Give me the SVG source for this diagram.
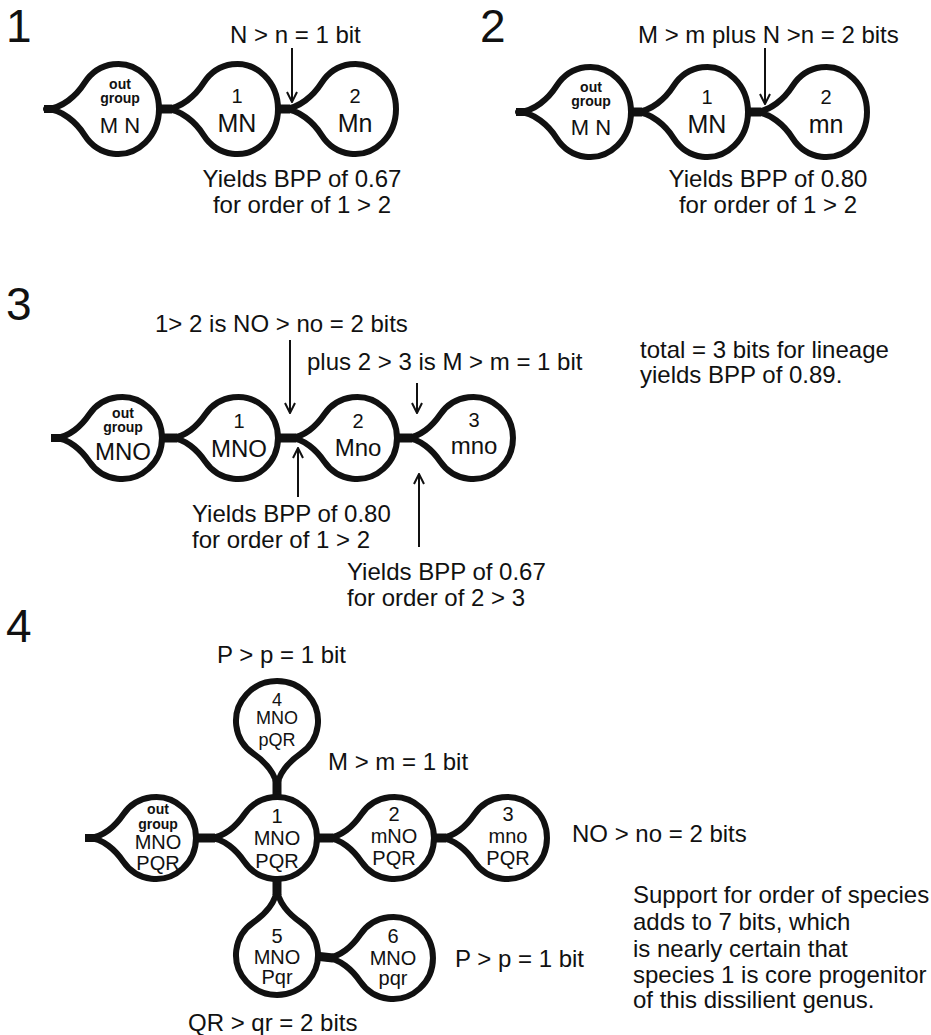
<svg xmlns="http://www.w3.org/2000/svg" width="931" height="1035" viewBox="0 0 931 1035">
  <style>
    text { font-family: "Liberation Sans", Arial, sans-serif; fill: #111; }
    .pn { font-size: 46px; }
    .lbl { font-size: 24px; }
    .c { text-anchor: middle; }
    .og { font-size: 14px; font-weight: bold; }
    .n18 { font-size: 18px; }
    .n20 { font-size: 20px; }
    .n22 { font-size: 22px; }
    .n24 { font-size: 24px; }
    .n25 { font-size: 25px; }
    .bar { stroke: #111; stroke-width: 9; fill: none; }
    .stub { stroke: #111; stroke-width: 8; fill: none; }
    .ptr { stroke: #111; stroke-width: 2; fill: none; marker-end: url(#head); }
  </style>
  <defs>
    <!-- bulb with a tapered stem pointing left; tip at (-72,0) -->
    <path id="bulbA" d="M-72,0 C-56,0 -41.1,-14 -33.6,-25.8 A41 45 0 1 1 -33.6,25.8 C-41.1,14 -56,0 -72,0Z" fill="#fff" stroke="#111" stroke-width="6" stroke-linejoin="round"/>
    <!-- slightly smaller bulb; tip at (-68,0) -->
    <path id="bulbB" d="M-68,0 C-53,0 -40.1,-12.8 -32.8,-23.5 A40 41 0 1 1 -32.8,23.5 C-40.1,12.8 -53,0 -68,0Z" fill="#fff" stroke="#111" stroke-width="6" stroke-linejoin="round"/>
    <marker id="head" viewBox="0 0 12 12" refX="11" refY="6" markerWidth="12" markerHeight="12" markerUnits="userSpaceOnUse" orient="auto">
      <path d="M1,1 L11,6 L1,11" fill="none" stroke="#111" stroke-width="2"/>
    </marker>
  </defs>
  <rect width="931" height="1035" fill="#fff"/>

  <!-- panel numbers -->
  <text class="pn" x="6" y="42">1</text>
  <text class="pn" x="480" y="42">2</text>
  <text class="pn" x="6" y="320">3</text>
  <text class="pn" x="6" y="642">4</text>

  <!-- connectors: stems joining the bulbs -->
  <g id="connectors">
    <path class="stub" d="M44,109 H58"/>
    <path class="bar" d="M156,109 H172"/>
    <path class="bar" d="M275,109 H290"/>
    <path class="stub" d="M516,112 H530"/>
    <path class="bar" d="M628,112 H642"/>
    <path class="bar" d="M745,112 H761"/>
    <path class="stub" d="M51,438 H65"/>
    <path class="bar" d="M159,438 H177"/>
    <path class="bar" d="M275,438 H296"/>
    <path class="bar" d="M394,438 H412"/>
    <path class="stub" d="M85,838 H99"/>
    <path class="bar" d="M193,838 H215"/>
    <path class="bar" d="M313,838 H333"/>
    <path class="bar" d="M431,838 H446"/>
    <path class="bar" d="M277,780 V800"/>
    <path class="bar" d="M277,876 V895"/>
    <path class="bar" d="M315,956 L333,958"/>
  </g>

  <!-- pointer arrows -->
  <g id="pointers">
    <path class="ptr" d="M292,48 V102"/>
    <path class="ptr" d="M765,48 V104"/>
    <path class="ptr" d="M290,340 V413"/>
    <path class="ptr" d="M417,383 V413"/>
    <path class="ptr" d="M298,497 V448"/>
    <path class="ptr" d="M419,547 V474"/>
  </g>

  <!-- panel 1 -->
  <g id="p1-out">
    <use href="#bulbA" transform="translate(118,109)"/>
    <text class="og c" x="120" y="89">out</text>
    <text class="og c" x="120" y="103">group</text>
    <text class="n22 c" x="120" y="133">M N</text>
  </g>
  <g id="p1-n1">
    <use href="#bulbA" transform="translate(237,109)"/>
    <text class="n20 c" x="237" y="103">1</text>
    <text class="n25 c" x="237" y="132">MN</text>
  </g>
  <g id="p1-n2">
    <use href="#bulbA" transform="translate(355,109)"/>
    <text class="n20 c" x="355" y="103">2</text>
    <text class="n25 c" x="355" y="132">Mn</text>
  </g>
  <text class="lbl" x="230" y="43">N &gt; n = 1 bit</text>
  <text class="lbl c" x="302" y="187">Yields BPP of 0.67</text>
  <text class="lbl c" x="302" y="213">for order of 1 &gt; 2</text>

  <!-- panel 2 -->
  <g id="p2-out">
    <use href="#bulbA" transform="translate(590,112)"/>
    <text class="og c" x="591" y="92">out</text>
    <text class="og c" x="591" y="106">group</text>
    <text class="n22 c" x="591" y="135">M N</text>
  </g>
  <g id="p2-n1">
    <use href="#bulbA" transform="translate(707,112)"/>
    <text class="n20 c" x="707" y="104">1</text>
    <text class="n25 c" x="707" y="133">MN</text>
  </g>
  <g id="p2-n2">
    <use href="#bulbA" transform="translate(826,112)"/>
    <text class="n20 c" x="826" y="104">2</text>
    <text class="n25 c" x="826" y="133">mn</text>
  </g>
  <text class="lbl" x="638" y="43">M &gt; m plus N &gt;n = 2 bits</text>
  <text class="lbl c" x="768" y="187">Yields BPP of 0.80</text>
  <text class="lbl c" x="768" y="213">for order of 1 &gt; 2</text>

  <!-- panel 3 -->
  <g id="p3-out">
    <use href="#bulbB" transform="translate(122,438)"/>
    <text class="og c" x="123" y="418">out</text>
    <text class="og c" x="123" y="432">group</text>
    <text class="n24 c" x="123" y="460">MNO</text>
  </g>
  <g id="p3-n1">
    <use href="#bulbB" transform="translate(238,438)"/>
    <text class="n20 c" x="239" y="428">1</text>
    <text class="n24 c" x="239" y="457">MNO</text>
  </g>
  <g id="p3-n2">
    <use href="#bulbB" transform="translate(357,438)"/>
    <text class="n20 c" x="358" y="428">2</text>
    <text class="n24 c" x="358" y="456">Mno</text>
  </g>
  <g id="p3-n3">
    <use href="#bulbB" transform="translate(473,438)"/>
    <text class="n20 c" x="474" y="427">3</text>
    <text class="n24 c" x="474" y="454">mno</text>
  </g>
  <text class="lbl" x="155" y="332">1&gt; 2 is NO &gt; no = 2 bits</text>
  <text class="lbl" x="307" y="370">plus 2 &gt; 3 is M &gt; m = 1 bit</text>
  <text class="lbl" x="640" y="358">total = 3 bits for lineage</text>
  <text class="lbl" x="640" y="383">yields BPP of 0.89.</text>
  <text class="lbl" x="192" y="522">Yields BPP of 0.80</text>
  <text class="lbl" x="192" y="548">for order of 1 &gt; 2</text>
  <text class="lbl" x="347" y="580">Yields BPP of 0.67</text>
  <text class="lbl" x="347" y="606">for order of 2 &gt; 3</text>

  <!-- panel 4 -->
  <g id="p4-out">
    <use href="#bulbB" transform="translate(156,838)"/>
    <text class="og c" x="158" y="814">out</text>
    <text class="og c" x="158" y="829">group</text>
    <text class="n20 c" x="158" y="849">MNO</text>
    <text class="n20 c" x="158" y="870">PQR</text>
  </g>
  <g id="p4-n1">
    <use href="#bulbB" transform="translate(277,838)"/>
    <text class="n20 c" x="277" y="823">1</text>
    <text class="n20 c" x="277" y="845">MNO</text>
    <text class="n20 c" x="277" y="868">PQR</text>
  </g>
  <g id="p4-n2">
    <use href="#bulbB" transform="translate(394,838)"/>
    <text class="n20 c" x="394" y="821">2</text>
    <text class="n20 c" x="394" y="843">mNO</text>
    <text class="n20 c" x="394" y="865">PQR</text>
  </g>
  <g id="p4-n3">
    <use href="#bulbB" transform="translate(507,838)"/>
    <text class="n20 c" x="508" y="821">3</text>
    <text class="n20 c" x="508" y="843">mno</text>
    <text class="n20 c" x="508" y="865">PQR</text>
  </g>
  <g id="p4-n4">
    <use href="#bulbB" transform="translate(277,721) rotate(-90)"/>
    <text class="n18 c" x="277" y="706">4</text>
    <text class="n18 c" x="277" y="724">MNO</text>
    <text class="n18 c" x="277" y="746">pQR</text>
  </g>
  <g id="p4-n5">
    <use href="#bulbB" transform="translate(277,955) rotate(90)"/>
    <text class="n20 c" x="277" y="943">5</text>
    <text class="n20 c" x="277" y="964">MNO</text>
    <text class="n20 c" x="277" y="984">Pqr</text>
  </g>
  <g id="p4-n6">
    <use href="#bulbB" transform="translate(393,958)"/>
    <text class="n20 c" x="393" y="943">6</text>
    <text class="n20 c" x="393" y="965">MNO</text>
    <text class="n20 c" x="393" y="985">pqr</text>
  </g>
  <text class="lbl" x="217" y="663">P &gt; p = 1 bit</text>
  <text class="lbl" x="328" y="770">M &gt; m = 1 bit</text>
  <text class="lbl" x="572" y="842">NO &gt; no = 2 bits</text>
  <text class="lbl" x="455" y="967">P &gt; p = 1 bit</text>
  <text class="lbl" x="188" y="1031">QR &gt; qr = 2 bits</text>
  <text class="lbl" x="633" y="903">Support for order of species</text>
  <text class="lbl" x="633" y="930">adds to 7 bits, which</text>
  <text class="lbl" x="633" y="957">is nearly certain that</text>
  <text class="lbl" x="633" y="983">species 1 is core progenitor</text>
  <text class="lbl" x="633" y="1008">of this dissilient genus.</text>
</svg>
